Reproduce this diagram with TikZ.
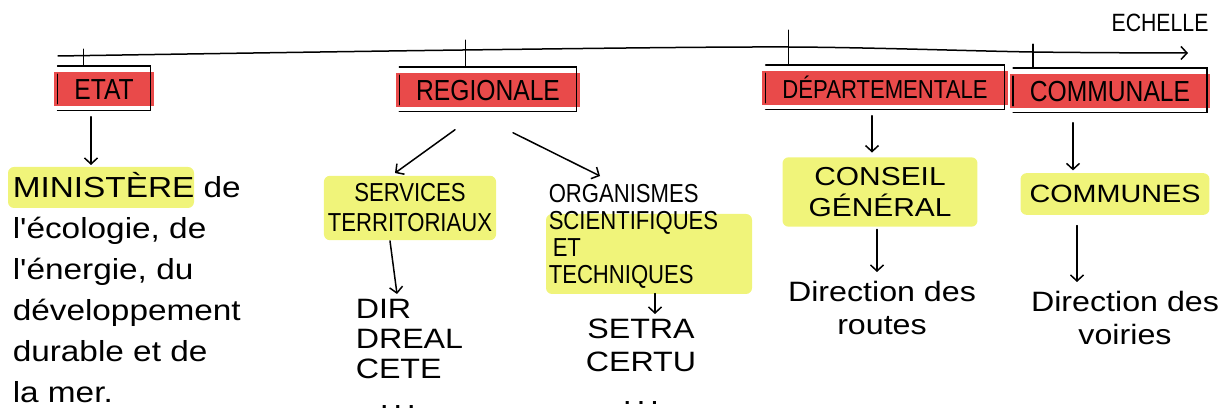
\documentclass[tikz,border=0pt]{standalone}
\usepackage{fontspec}
\newfontfamily\capfont[FakeStretch=0.85]{Liberation Sans}
\newfontfamily\handfont[FakeStretch=1.15]{Liberation Sans}
\usetikzlibrary{arrows.meta}
\usetikzlibrary{calc}
\usetikzlibrary{backgrounds}
\definecolor{markred}{RGB}{233,74,74}
\definecolor{markyellow}{RGB}{240,244,122}

\tikzset{
  tier/.style={fill=markred, inner xsep=20pt, inner ysep=0pt, minimum height=34pt,
    text height=21pt, text depth=0pt, font=\capfont\fontsize{29}{34}\selectfont},
  highlight/.style={fill=markyellow, rounded corners=6pt},
  hand/.style={inner sep=0pt, font=\handfont\fontsize{29}{41}\selectfont},
  caps/.style={inner sep=0pt, font=\capfont\fontsize{26}{30}\selectfont},
}

\begin{document}
\begin{tikzpicture}[x=1pt, y=-1pt, line width=1.5pt, line cap=round,
    >={Straight Barb[length=6pt,width=13pt]}]
  \useasboundingbox (0,0) rectangle (1226,419);

  % axe
  \draw[->] plot[smooth] coordinates {(58,56) (463,50) (787,47) (1033,52) (1188,53)};
  \node[font=\capfont\fontsize{25}{28}\selectfont] (echelle) at (1160,23) {ECHELLE};

  % niveaux
  \node[tier] (etat) at (104,89) {ETAT};
  \node[tier] (regionale) at (488,90) {REGIONALE};
  \node[tier, font=\capfont\fontsize{26}{30}\selectfont] (departementale) at (885,88) {DÉPARTEMENTALE};
  \node[tier] (communale) at (1110,91) {COMMUNALE};

  \foreach \n in {etat, regionale, departementale, communale} {
    \draw ([xshift=4pt,yshift=5pt]\n.north west) -- ([xshift=-4pt,yshift=5pt]\n.north east)
      -- ([xshift=-4pt,yshift=-4pt]\n.south east) -- ([xshift=4pt,yshift=-4pt]\n.south west);
    \draw ([xshift=4pt,yshift=-3pt]\n.north west) -- ([xshift=4pt,yshift=3pt]\n.south west);
  }
  \foreach \n/\t/\h in {etat/30/17, regionale/70/27, departementale/27/35, communale/24/24}
    \draw ([xshift=\t pt,yshift=5pt]\n.north west) -- ++(0,-\h);

  % organismes
  \node[hand, anchor=north west, align=left] (ministere) at (12,172)
    {MINISTÈRE de\\l'écologie, de\\l'énergie, du\\développement\\durable et de\\la mer.};
  \node[caps, highlight, align=center, inner xsep=4pt, inner ysep=8pt] (services) at (410,208)
    {SERVICES\\TERRITORIAUX};
  \node[hand, align=left, anchor=north west, font=\handfont\fontsize{28}{30}\selectfont] (dir) at (355,298)
    {DIR\\DREAL\\CETE\\\hspace*{24pt}.\,.\,.};
  \node[caps, align=left, anchor=north west, font=\capfont\fontsize{26}{27}\selectfont] (organismes) at (548,184)
    {ORGANISMES\\SCIENTIFIQUES\\\hspace*{4pt}ET\\TECHNIQUES};
  \node[hand, align=center, anchor=north, font=\handfont\fontsize{28}{33}\selectfont] (setra) at (641,318)
    {SETRA\\CERTU\\.\,.\,.};
  \node[hand, highlight, align=center, inner xsep=26pt, inner ysep=10pt,
    font=\handfont\fontsize{26}{31}\selectfont] (conseil) at (880,192) {CONSEIL\\GÉNÉRAL};
  \node[hand, align=center, anchor=north, font=\handfont\fontsize{28}{33}\selectfont] (routes) at (882,280)
    {Direction des\\routes};
  \node[hand, highlight, inner xsep=9pt, inner ysep=12pt, font=\handfont\fontsize{25}{30}\selectfont]
    (communes) at (1115,194) {COMMUNES};
  \node[hand, align=center, anchor=north, font=\handfont\fontsize{28}{33}\selectfont] (voiries) at (1125,290)
    {Direction des\\voiries};

  \begin{scope}[on background layer]
    \fill[markyellow, rounded corners=6pt] ($(ministere.north west)+(-4,-5)$) rectangle ($(ministere.north west)+(182,36)$);
    \fill[markyellow, rounded corners=6pt] ($(organismes.north west)+(-2,30)$) rectangle ($(organismes.north west)+(204,110)$);
  \end{scope}

  % fleches
  \draw[->] ([xshift=-13pt,yshift=-10pt]etat.south) -- ([xshift=79pt,yshift=7pt]ministere.north west);
  \draw[->] ([xshift=-33pt,yshift=-22pt]regionale.south) -- ([xshift=-15pt,yshift=2pt]services.north);
  \draw[->] ([xshift=25pt,yshift=-25pt]regionale.south) -- ([xshift=52pt,yshift=8pt]organismes.north west);
  \draw[->] ([xshift=-20pt]services.south) -- ([xshift=42pt,yshift=4pt]dir.north west);
  \draw[->] ([xshift=107pt,yshift=-4pt]organismes.south west) -- ([xshift=14pt,yshift=4pt]setra.north);
  \draw[->] ([xshift=-13pt,yshift=-10pt]departementale.south) -- ([xshift=-8pt,yshift=4pt]conseil.north);
  \draw[->] ([xshift=-3pt,yshift=-2pt]conseil.south) -- ([xshift=-5pt,yshift=8pt]routes.north);
  \draw[->] ([xshift=-37pt,yshift=-14pt]communale.south) -- ([xshift=-42pt,yshift=2pt]communes.north);
  \draw[->] ([xshift=-38pt,yshift=-10pt]communes.south) -- ([xshift=-48pt,yshift=8pt]voiries.north);
\end{tikzpicture}
\end{document}
